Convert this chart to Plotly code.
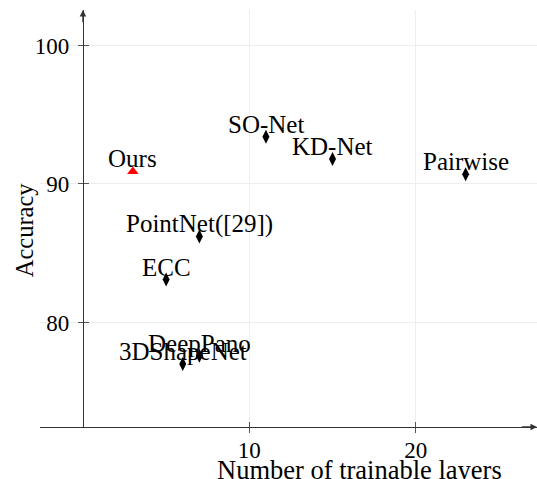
import plotly.graph_objects as go

# ---- data ----
methods = ["Ours", "SO-Net", "KD-Net", "Pairwise", "PointNet([29])", "ECC", "DeepPano", "3DShapeNet"]
layers = [3, 11, 15, 23, 7, 5, 7, 6]
accuracy = [90.9, 93.4, 91.8, 90.7, 86.2, 83.1, 77.6, 77.0]
x_ticks = [10, 20]
y_ticks = [80, 90, 100]

ours_x, ours_y = layers[:1], accuracy[:1]
oth_x, oth_y = layers[1:], accuracy[1:]

X_RANGE = [-2.58, 27.29]
Y_RANGE = [72.45, 102.56]
FONT = "'Liberation Serif', 'Times New Roman', 'DejaVu Serif', serif"
AX_COL = "#333333"

fig = go.Figure()
fig.add_trace(go.Scatter(x=oth_x, y=oth_y, mode="markers",
                         marker=dict(symbol="diamond-tall", size=10, color="black"),
                         showlegend=False, cliponaxis=False))
fig.add_trace(go.Scatter(x=ours_x, y=ours_y, mode="markers",
                         marker=dict(symbol="triangle-up", size=10, color="red"),
                         showlegend=False, cliponaxis=False))

annotations = []
for name, xv, yv in zip(methods, layers, accuracy):
    annotations.append(dict(x=xv, y=yv, xref="x", yref="y", text=name, showarrow=False,
                            xanchor="center", yanchor="bottom", yshift=-3,
                            font=dict(family=FONT, size=25, color="black")))
# axis arrows
annotations.append(dict(x=X_RANGE[1], y=Y_RANGE[0], ax=X_RANGE[1] - 1, ay=Y_RANGE[0],
                        xref="x", yref="y", axref="x", ayref="y", text="", showarrow=True,
                        arrowhead=2, arrowsize=1, arrowwidth=1.3, arrowcolor=AX_COL))
annotations.append(dict(x=0, y=Y_RANGE[1], ax=0, ay=Y_RANGE[1] - 1,
                        xref="x", yref="y", axref="x", ayref="y", text="", showarrow=True,
                        arrowhead=2, arrowsize=1, arrowwidth=1.3, arrowcolor=AX_COL))
# axis titles
annotations.append(dict(x=0.642, y=-0.104, xref="paper", yref="paper", text="Number of trainable layers",
                        showarrow=False, xanchor="center", yanchor="middle",
                        font=dict(family=FONT, size=26.5, color="black")))
annotations.append(dict(x=-0.032, y=0.472, xref="paper", yref="paper", text="Accuracy", textangle=-90,
                        showarrow=False, xanchor="center", yanchor="middle",
                        font=dict(family=FONT, size=24.5, color="black")))

ypos = (0 - X_RANGE[0]) / (X_RANGE[1] - X_RANGE[0])

common = dict(ticklen=5, tickwidth=1, tickcolor="#555555", zeroline=False, automargin=False,
              fixedrange=True)

fig.update_layout(
    width=537, height=479,
    margin=dict(l=40, r=0, t=10, b=52, autoexpand=False),
    plot_bgcolor="white", paper_bgcolor="white",
    font=dict(family=FONT, size=23, color="black"),
    annotations=annotations,
    xaxis=dict(range=X_RANGE, tickvals=x_ticks, ticks="inside", ticklabelstandoff=2,
               showline=True, linecolor=AX_COL, linewidth=1.3,
               showgrid=True, gridcolor="#eeeeee", gridwidth=1,
               tickfont=dict(family=FONT, size=23, color="black"), **common),
    xaxis2=dict(range=X_RANGE, tickvals=x_ticks, ticks="outside", showticklabels=False,
                showgrid=False, overlaying="x", anchor="y", side="bottom", showline=False, **common),
    yaxis=dict(range=Y_RANGE, tickvals=y_ticks, ticks="outside",
               showline=True, linecolor=AX_COL, linewidth=1.3,
               anchor="free", position=ypos, ticklabelstandoff=4,
               showgrid=True, gridcolor="#eeeeee", gridwidth=1,
               tickfont=dict(family=FONT, size=23, color="black"), **common),
    yaxis2=dict(range=Y_RANGE, tickvals=y_ticks, ticks="inside", showticklabels=False,
                showgrid=False, overlaying="y", anchor="free", position=ypos, showline=False, **common),
)
# dummy trace to activate overlay axes
fig.add_trace(go.Scatter(x=[None], y=[None], xaxis="x2", yaxis="y2", showlegend=False, hoverinfo="skip"))

fig.write_html("out.html", config={"displayModeBar": False},
               post_script="document.body.style.margin='0';document.body.style.overflow='hidden';")
